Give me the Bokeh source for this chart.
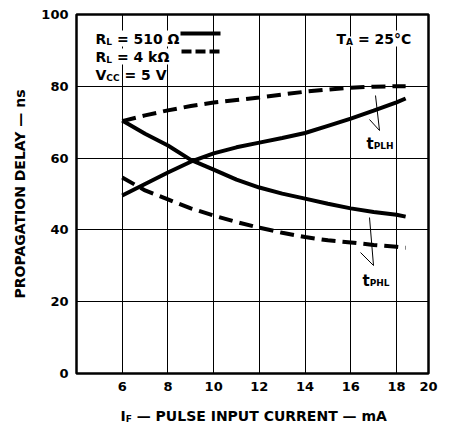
from bokeh.plotting import figure
from bokeh.models import Range1d, FixedTicker, Label
from bokeh.layouts import column
from bokeh.core.properties import value
from bokeh.embed import file_html
from bokeh.resources import INLINE

# ---------------- data ----------------
current_ma = [6, 7, 8, 9, 10, 11, 12, 13, 14, 15, 16, 17, 18, 18.4]
tplh_510 = [49.6, 52.8, 56.0, 59.0, 61.3, 63.0, 64.3, 65.6, 67.0, 69.0, 71.0, 73.2, 75.5, 76.6]
tphl_510 = [70.5, 66.8, 63.5, 59.5, 56.8, 54.0, 51.8, 50.1, 48.7, 47.3, 46.0, 45.0, 44.2, 43.7]
tplh_4k = [70.3, 71.9, 73.3, 74.5, 75.5, 76.2, 76.9, 77.7, 78.5, 79.1, 79.6, 79.9, 80.0, 80.0]
tphl_4k = [54.6, 51.0, 48.5, 46.0, 44.0, 42.2, 40.6, 39.2, 38.0, 37.1, 36.5, 35.8, 35.3, 35.0]

x_ticks = [6, 8, 10, 12, 14, 16, 18, 19.4]
x_tick_labels = {19.4: "20"}
y_ticks = [0, 20, 40, 60, 80, 100]
y_title = "PROPAGATION DELAY — ns"

FONT = "DejaVu Sans"

# ---------------- geometry (screenshot pixels) ----------------
FL, FR, FT, FB = 76, 428, 14, 373
X0, X1, Y0, Y1 = 4, 19.4, 0, 100
W, H = 441, 401          # main figure
H2 = 28                  # strip holding the x-axis title


def px2x(px):
    return X0 + (px - FL) / (FR - FL) * (X1 - X0)


def px2y(py):
    return Y0 + (FB - py) / (FB - FT) * (Y1 - Y0)


p = figure(width=W, height=H, output_backend="svg", toolbar_location=None,
           x_range=Range1d(X0, X1), y_range=Range1d(Y0, Y1),
           min_border_left=FL, min_border_right=W - FR,
           min_border_top=FT, min_border_bottom=H - FB)
p.background_fill_color = "white"
p.border_fill_color = "white"
p.outline_line_color = "black"
p.outline_line_width = 2.5

for ax in (p.xaxis[0], p.yaxis[0]):
    ax.axis_line_color = None
    ax.major_tick_line_color = None
    ax.minor_tick_line_color = None
    ax.major_tick_out = 0
    ax.major_tick_in = 0
    ax.major_label_text_font = FONT
    ax.major_label_text_font_style = "bold"
    ax.major_label_text_font_size = "13px"
    ax.major_label_text_color = "black"
    ax.major_label_standoff = 8

p.yaxis.axis_label = y_title
p.yaxis.axis_label_text_font = FONT
p.yaxis.axis_label_text_font_style = "bold"
p.yaxis.axis_label_text_font_size = "14px"
p.yaxis.axis_label_text_color = "black"
p.yaxis.axis_label_standoff = 10

p.xaxis.ticker = FixedTicker(ticks=x_ticks)
p.xaxis.major_label_overrides = x_tick_labels
p.yaxis.ticker = FixedTicker(ticks=y_ticks)
p.xgrid.ticker = FixedTicker(ticks=x_ticks)
p.ygrid.ticker = FixedTicker(ticks=y_ticks)
for g in (p.xgrid, p.ygrid):
    g.grid_line_color = "black"
    g.grid_line_alpha = 1.0
    g.grid_line_width = 1

# ---------------- curves ----------------
p.line(current_ma, tplh_510, line_color="black", line_width=4)
p.line(current_ma, tphl_510, line_color="black", line_width=4)
p.line(current_ma, tplh_4k, line_color="black", line_width=4, line_dash="14 7")
p.line(current_ma, tphl_4k, line_color="black", line_width=4, line_dash="14 7")

# ---------------- text helpers ----------------
WID = {" ": .348, "A": .774, "C": .734, "D": .830, "E": .683, "F": .683, "G": .821,
       "H": .837, "I": .372, "L": .637, "M": .995, "N": .837, "O": .850, "P": .733,
       "R": .770, "S": .720, "T": .682, "U": .812, "V": .774, "Y": .724,
       "=": .838, "k": .665, "m": 1.042, "n": .712, "s": .595, "t": .478,
       "Ω": .84, "°": .5, "—": 1.0}


def tw(s, size):
    return sum(WID.get(c, .696) for c in s) * size


def runs(px, base, parts, bg=True):
    cur = px
    for text, size, dy in parts:
        stripped = text.lstrip(" ")
        cur += tw(text[:len(text) - len(stripped)], size)
        lab = Label(x=cur - FL, y=FB - (base + dy), x_units="screen", y_units="screen",
                    text=stripped,
                    text_font=FONT, text_font_style="bold",
                    text_font_size=f"{size}px", text_color="black",
                    text_align="left", text_baseline="alphabetic")
        if bg:
            lab.background_fill_color = "white"
        p.add_layout(lab)
        cur += tw(stripped, size)
    return cur


MAIN, SUB = 14, 9

# legend block
runs(95, 38, [("R", MAIN, 0), ("L", SUB, 3), (" = 510 Ω", MAIN, 0)])
runs(95, 56, [("R", MAIN, 0), ("L", SUB, 3), (" = 4 kΩ", MAIN, 0)])
runs(95, 74, [("V", MAIN, 0), ("CC", SUB, 3), (" = 5 V", MAIN, 0)])
p.segment(x0=[px2x(180)], y0=[px2y(33)], x1=[px2x(220)], y1=[px2y(33)],
          line_color="black", line_width=4)
p.segment(x0=[px2x(181)], y0=[px2y(51)], x1=[px2x(220)], y1=[px2y(51)],
          line_color="black", line_width=4, line_dash="10 4")

# ambient temperature
runs(336, 38, [("T", MAIN, 0), ("A", SUB, 3), (" = 25°C", MAIN, 0)])

# curve annotations
runs(366, 143, [("t", 15, 0), ("PLH", SUB, 2)], bg=False)
runs(362, 280, [("t", 15, 0), ("PHL", SUB, 2)], bg=False)
p.segment(x0=[px2x(375), px2x(369), px2x(369), px2x(360)],
          y0=[px2y(95), px2y(119), px2y(217), px2y(252)],
          x1=[px2x(379), px2x(379), px2x(373), px2x(373)],
          y1=[px2y(130), px2y(130), px2y(265), px2y(265)],
          line_color="black", line_width=1)

# ---------------- x-axis title strip (with subscript) ----------------
# the column aligns this strip's frame with the main frame (FL..FR)
p2 = figure(width=W, height=H2, output_backend="svg", toolbar_location=None,
            x_range=Range1d(FL, FR), y_range=Range1d(0, H2),
            min_border_left=FL, min_border_right=W - FR, min_border_top=0, min_border_bottom=0)
p2.axis.visible = False
p2.grid.visible = False
p2.outline_line_color = None
p2.background_fill_color = "white"
p2.border_fill_color = "white"

x_title_parts = [("I", MAIN, 0), ("F", SUB, 3), (" — PULSE INPUT CURRENT — mA", MAIN, 0)]
base_local = 415 - H      # baseline in strip pixels from its top
cur = 120
for text, size, dy in x_title_parts:
    stripped = text.lstrip(" ")
    cur += tw(text[:len(text) - len(stripped)], size)
    p2.text(x=[cur], y=[H2 - (base_local + dy)], text=[stripped],
            text_font=value(FONT), text_font_style="bold",
            text_font_size=value(f"{size}px"), text_color="black",
            text_align="left", text_baseline="alphabetic")
    cur += tw(stripped, size)

layout = column(p, p2, spacing=0)
open("out.html", "w").write(file_html(layout, INLINE))
